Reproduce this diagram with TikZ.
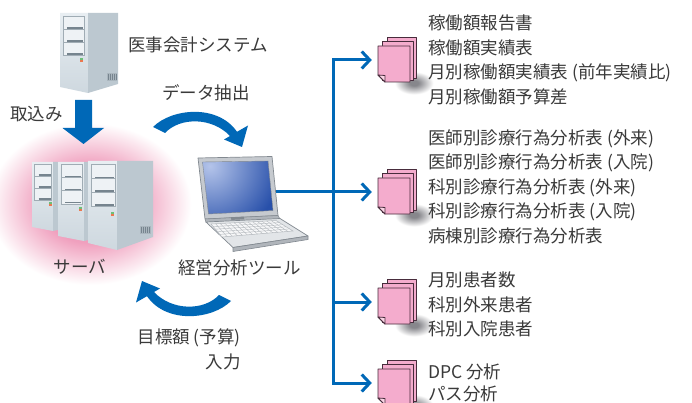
\documentclass[tikz,border=0pt]{standalone}
\usepackage{fontspec}
\newfontfamily\jp{Noto Sans CJK JP}
\usetikzlibrary{arrows.meta,calc}

\definecolor{flowblue}{RGB}{0,104,183}
\definecolor{ink}{RGB}{58,58,58}
\definecolor{glowpink}{RGB}{240,160,190}
\definecolor{pagepink}{RGB}{244,172,205}
\definecolor{pagefold}{RGB}{250,212,228}
\definecolor{pageedge}{RGB}{72,44,60}
\definecolor{shadowgray}{RGB}{135,135,140}
\definecolor{caseTop}{RGB}{232,238,242}
\definecolor{caseBot}{RGB}{206,216,223}
\definecolor{caseSide}{RGB}{188,200,208}
\definecolor{caseEdge}{RGB}{170,182,190}
\definecolor{bayFill}{RGB}{238,242,245}
\definecolor{bayEdge}{RGB}{160,172,180}
\definecolor{bayShade}{RGB}{118,132,142}
\definecolor{ledGreen}{RGB}{110,190,120}
\definecolor{ledOrange}{RGB}{235,120,80}
\definecolor{lidGray}{RGB}{198,202,207}
\definecolor{lidEdge}{RGB}{130,137,144}
\definecolor{hingeGray}{RGB}{176,181,187}
\definecolor{screenLight}{RGB}{180,196,234}
\definecolor{screenDark}{RGB}{40,80,170}
\definecolor{deckGray}{RGB}{226,229,232}
\definecolor{keyFill}{RGB}{246,247,248}
\definecolor{keyLine}{RGB}{178,183,188}

% radial shadings; 25bp corresponds to the half size of the shaded path
\pgfdeclareradialshading{glow}{\pgfpoint{0bp}{0bp}}{color(0bp)=(glowpink);color(11bp)=(glowpink);color(23bp)=(white);color(50bp)=(white)}
\pgfdeclareradialshading{docshadow}{\pgfpoint{0bp}{0bp}}{color(0bp)=(shadowgray);color(5bp)=(shadowgray);color(22bp)=(white);color(50bp)=(white)}
\pgfdeclareradialshading{screenglow}{\pgfpoint{0bp}{0bp}}{color(0bp)=(screenLight);color(22bp)=(screenDark);color(50bp)=(screenDark)}

% three stacked drive bays: left, top, width, height of one bay
\newcommand\baystack[4]{%
  \foreach \i in {0,1,2}{
    \draw[bayEdge, fill=bayFill, line width=0.5pt] (#1,{#2+\i*#4}) rectangle ({#1+#3},{#2+(\i+1)*#4});
    \draw[bayShade, line width=1.2pt] ({#1+4},{#2+(\i+1)*#4-1}) -- ({#1+#3-0.6},{#2+(\i+1)*#4-1});
  }}
% status lamps
\newcommand\leds[2]{%
  \fill[ledGreen] (#1,#2) rectangle ++(3,2);
  \fill[ledOrange] (#1,{#2+2}) rectangle ++(3,2);}
% side vent grille
\newcommand\vent[4]{%
  \fill[caseEdge] (#1,#2) rectangle (#3,#4);
  \foreach \v in {1.5,3.5,...,9.5}
    \draw[bayShade, line width=0.5pt] ({#1+\v},{#2+0.6}) -- ({#1+\v},{#4-0.6});}

\begin{document}
\begin{tikzpicture}[x=1pt,y=-1pt,
  lbl/.style={font=\jp\fontsize{17.5}{21}\selectfont, text=ink, inner sep=0pt,
              text height=15.4pt, text depth=2.1pt},
  flow/.style={draw=flowblue, line width=3pt, line join=miter},
  flowtip/.style={-{Straight Barb[length=8pt,width=17pt]}},
  page/.style={draw=pageedge, fill=pagepink, line width=0.8pt, line join=round},
  docbox/.style={minimum width=32pt, minimum height=36pt, inner sep=0pt},
  towerface/.style={top color=caseTop, bottom color=caseBot},
]
\fill[white] (0,0) rectangle (692,403);
\useasboundingbox (0,0) rectangle (692,403);

% pink halo behind the server group
\shade[shading=glow] (90,204) ellipse [x radius=110, y radius=88];

% accounting system tower
\shade[towerface] (60,13) -- (88,13) -- (88,93) -- (60,87) -- cycle;
\fill[caseSide] (88,13) -- (118,13) -- (118,84) -- (88,93) -- cycle;
\baystack{63}{16}{21}{13}
\leds{80}{58}
\vent{107}{73}{117}{81}

% import arrow
\coordinate (impA) at (83.5,100);
\coordinate (impB) at (83.5,144);
\fill[flowblue] (impA) ++(-8.5,0) -- ++(17,0) -- ++(0,28) -- ++(12,0) -- (impB)
  -- ++(-21,-16) -- ++(12.5,0) -- cycle;

% server group: back, middle, front tower
\shade[towerface] (32,162) -- (53,162) -- (53,231) -- (32,227) -- cycle;
\fill[caseSide] (53,162) -- (60,162) -- (60,229.5) -- (53,231) -- cycle;
\baystack{34.5}{164}{17}{12}
\leds{49}{202}

\shade[towerface] (58,162) -- (84,162) -- (84,241) -- (58,236) -- cycle;
\fill[caseSide] (84,162) -- (92,162) -- (92,239) -- (84,241) -- cycle;
\baystack{61}{164}{21}{13.3}
\leds{79}{207}

\shade[towerface] (88,161) -- (117,161) -- (117,250) -- (88,243) -- cycle;
\fill[caseSide] (117,161) -- (153,161) -- (153,237) -- (117,250) -- cycle;
\baystack{91}{164.5}{24}{13.8}
\leds{111}{212}
\vent{140}{226}{151}{234}

% curved arrows between servers and the analysis tool
\foreach \r in {0,180}
  \fill[flowblue, rotate around={\r:(192,214)}]
    (153,127) .. controls (172,108) and (218,104) .. (237,131.8)
    -- (248,125.5) -- (242,147) -- (224,139.5) -- (230,136)
    .. controls (212,117) and (180,117) .. (165,133) -- cycle;

% laptop
\fill[lidGray, draw=lidEdge, line width=0.7pt, line join=round]
  (198,158) -- (272,156.5) -- (278,215.5) -- (205,219) -- cycle;
\begin{scope}
  \clip (202.5,162) -- (268,161) -- (273,210.5) -- (208.5,214) -- cycle;
  \shade[shading=screenglow] (210,166) circle (80);
\end{scope}
\draw[lidEdge, line width=0.4pt] (202.5,162) -- (268,161) -- (273,210.5) -- (208.5,214) -- cycle;
\fill[hingeGray, draw=lidEdge, line width=0.5pt, line join=round]
  (205,219) -- (278,215.5) -- (280,219) -- (206,222.5) -- cycle;
\fill[lidEdge] (231,217.2) -- (244,216.6) -- (244.3,219.3) -- (231.3,219.9) -- cycle;
\fill[deckGray, draw=lidEdge, line width=0.7pt, line join=round]
  (206,222) -- (280,218.5) -- (308,236) -- (233,247.5) -- cycle;
\fill[hingeGray, draw=lidEdge, line width=0.6pt, line join=round]
  (233,247.5) -- (308,236) -- (308,239.5) -- (233,251.5) -- cycle;
\coordinate (K1) at (211,224);
\coordinate (K2) at (276,220.5);
\coordinate (K3) at (293,231);
\coordinate (K4) at (222,237);
\fill[keyFill, draw=keyLine, line width=0.5pt] (K1) -- (K2) -- (K3) -- (K4) -- cycle;
\foreach \f in {0.2,0.4,0.6,0.8}
  \draw[keyLine, line width=0.4pt] ($(K1)!\f!(K4)$) -- ($(K2)!\f!(K3)$);
\foreach \k [evaluate=\k as \f using \k/14] in {1,...,13}
  \draw[keyLine, line width=0.4pt] ($(K1)!\f!(K2)$) -- ($(K4)!\f!(K3)$);
\coordinate (lapR) at (276,192);

% report stacks
\foreach \n/\ty in {d1/46, d2/178, d3/288, d4/369} {
  \begin{scope}[shift={(378,\ty)}]
    \shade[shading=docshadow] (36,37) ellipse [x radius=22, y radius=13];
    \draw[page] (9,-9) rectangle (38.5,32);
    \draw[page] (4.5,-4.5) rectangle (35.5,34);
    \draw[page] (0,0) -- (32,0) -- (32,36) -- (7,36) -- (0,29) -- cycle;
    \draw[page, fill=pagefold] (0,29) -- (7,29.5) -- (7,36) -- cycle;
    \node[docbox] (\n) at (16,18) {};
  \end{scope}
}

% distribution lines
\coordinate (t1) at (333,60);
\coordinate (t3) at (333,302);
\coordinate (t4) at (333,383);
\draw[flow, {Straight Barb[length=8pt,width=17pt]}-{Straight Barb[length=8pt,width=17pt]},
      shorten <=6pt, shorten >=6pt]
  ([yshift=4pt]d1.west) -- (t1) -- (t4) -- ([yshift=4pt]d4.west);
\draw[flow, flowtip, shorten >=6pt] (t3) -- ([yshift=4pt]d3.west);
\draw[flow, flowtip, shorten >=6pt] (lapR) -- ([yshift=4pt]d2.west);

% labels
\node[lbl, anchor=west] (sys) at (128,45) {医事会計システム};
\node[lbl, anchor=west] (ext) at (162,93) {データ抽出};
\node[lbl, anchor=west] (imp) at (10,114) {取込み};
\node[lbl] (srv) at (80,267) {サーバ};
\node[lbl, anchor=west] (tool) at (178,268) {経営分析ツール};
\node[lbl, anchor=east] (bud1) at (241,337) {目標額 (予算)};
\node[lbl, anchor=east] (bud2) at (241,362) {入力};

\foreach \y/\t [count=\i] in {23/稼働額報告書, 47.5/稼働額実績表,
    72/月別稼働額実績表 (前年実績比), 96.5/月別稼働額予算差}
  \node[lbl, anchor=west] (ga\i) at (428,\y) {\t};
\foreach \y/\t [count=\i] in {137.5/医師別診療行為分析表 (外来), 162/医師別診療行為分析表 (入院),
    186.7/科別診療行為分析表 (外来), 211.3/科別診療行為分析表 (入院), 236/病棟別診療行為分析表}
  \node[lbl, anchor=west] (gb\i) at (428,\y) {\t};
\foreach \y/\t [count=\i] in {280/月別患者数, 304.5/科別外来患者, 329/科別入院患者}
  \node[lbl, anchor=west] (gc\i) at (428,\y) {\t};
\foreach \y/\t [count=\i] in {372/DPC 分析, 394/パス分析}
  \node[lbl, anchor=west] (gd\i) at (428,\y) {\t};
\end{tikzpicture}
\end{document}
